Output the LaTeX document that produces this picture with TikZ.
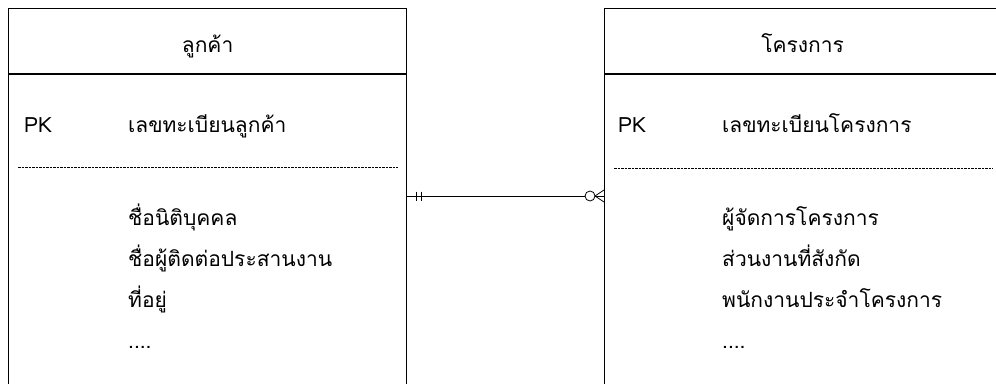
\documentclass[tikz,border=0pt]{standalone}
\usepackage{fontspec}
\newfontfamily\thaifont[Script=Thai]{Loma}
\usetikzlibrary{arrows.meta,calc,positioning}
\tikzset {
  >=Stealth,
  every node/.style={font=\thaifont\fontsize{21}{25}\selectfont,inner sep=0pt},
}

\begin{document}
\begin{tikzpicture}[x=1pt,y=-1pt,
    entity/.style={draw,line width=1.2pt,minimum height=420pt,anchor=north west},
    keyline/.style={dash pattern=on 2.5pt off 1pt,line width=0.8pt},
    rel/.style={line width=0.8pt}]
          \useasboundingbox (0,0) rectangle (996,383);
          \clip (0,0) rectangle (996,383);
          % the two entities
          \node[entity,minimum width=398pt] (cust) at (8,8) {};
          \node[entity,minimum width=396pt] (proj) at (604,8) {};
          \draw[line width=1.2pt] ([yshift=-66pt]cust.north west) -- ([yshift=-66pt]cust.north east);
          \draw[line width=1.2pt] ([yshift=-66pt]proj.north west) -- ([yshift=-66pt]proj.north east);
          \draw[keyline] ([shift={(10,159)}]cust.north west) -- ([shift={(-9,159)}]cust.north east);
          \draw[keyline] ([shift={(10,160)}]proj.north west) -- ([shift={(-8,160)}]proj.north east);
          % customer
          \node[anchor=base] (custname) at ([yshift=-44pt]cust.north) {ลูกค้า};
          \node[anchor=base west] (custpk) at (24,132) {PK};
          \node[anchor=base west] (custid) at (128,132) {เลขทะเบียนลูกค้า};
          \node[anchor=base west] (custa) at (128,225) {ชื่อนิติบุคคล};
          \node[anchor=base west] (custb) at (128,266) {ชื่อผู้ติดต่อประสานงาน};
          \node[anchor=base west] (custc) at (128,307) {ที่อยู่};
          \node[anchor=base west] (custd) at (128,348) {....};
          % project
          \node[anchor=base] (projname) at ([yshift=-44pt]proj.north) {โครงการ};
          \node[anchor=base west] (projpk) at (618,132) {PK};
          \node[anchor=base west] (projid) at (722,132) {เลขทะเบียนโครงการ};
          \node[anchor=base west] (proja) at (722,225) {ผู้จัดการโครงการ};
          \node[anchor=base west] (projb) at (722,266) {ส่วนงานที่สังกัด};
          \node[anchor=base west] (projc) at (722,307) {พนักงานประจำโครงการ};
          \node[anchor=base west] (projd) at (722,348) {....};
          % one customer -- many projects
          \coordinate (rely) at (0,196);
          \coordinate (relA) at (cust.east |- rely);
          \coordinate (relB) at (proj.west |- rely);
          \draw[rel] (relA) -- (relB);
          \draw[rel] ([xshift=9pt]relA) ++(0,-4.5) -- ++(0,9);
          \draw[rel] ([xshift=14pt]relA) ++(0,-4.5) -- ++(0,9);
          \draw[rel,fill=white] ([xshift=-14pt]relB) circle[radius=5pt];
          \draw[rel] ([xshift=-9pt]relB) -- ++(9,6) ([xshift=-9pt]relB) -- ++(9,-6);
        \end{tikzpicture}
\end{document}
